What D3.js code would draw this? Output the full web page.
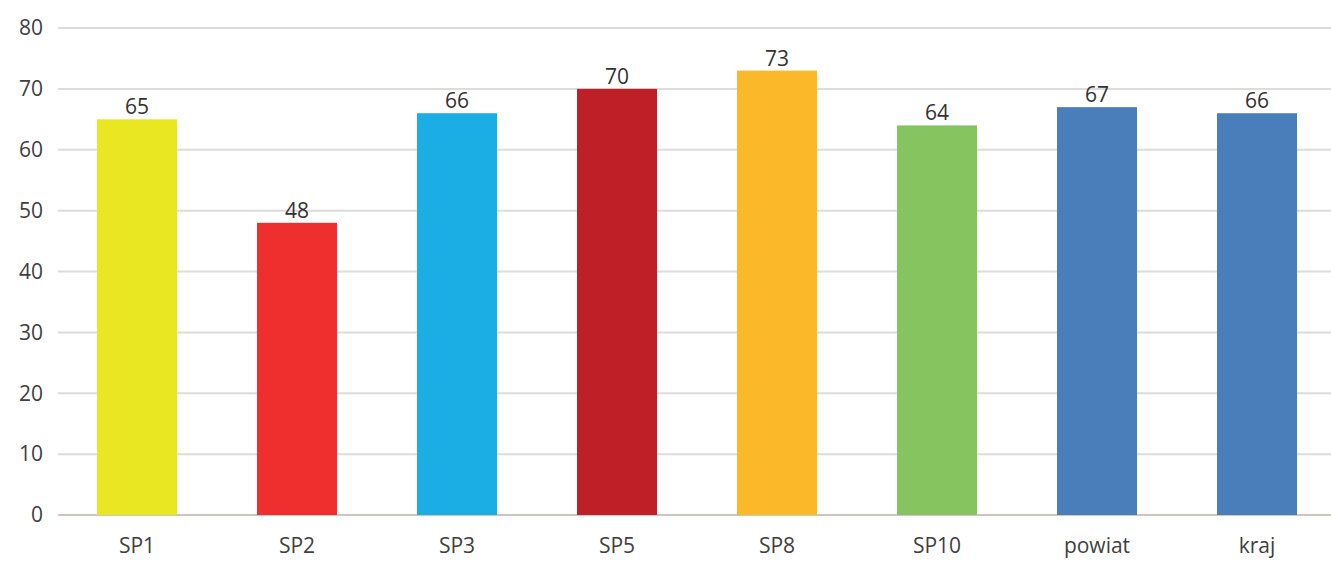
<!DOCTYPE html>
<html><head><meta charset="utf-8">
<script src="https://cdn.jsdelivr.net/npm/d3@7"></script>
<style>body{margin:0;background:#fff;} text{font-family:"Open Sans","DejaVu Sans",sans-serif;}</style>
</head><body>
<svg id="c" width="1331" height="561"></svg>
<script>
const categories = ["SP1","SP2","SP3","SP5","SP8","SP10","powiat","kraj"];
const values = [65,48,66,70,73,64,67,66];
const colors = ["#E9E722","#EE2F2D","#1BAEE4","#BF1F26","#FBB829","#86C45F","#4A7EBB","#4A7EBB"];
const yTicks = [0,10,20,30,40,50,60,70,80];

const svg = d3.select("#c");
const x = d3.scaleBand().domain(categories).range([57,1337]).paddingInner(0.5).paddingOuter(0.25);
const y = d3.scaleLinear().domain([0,80]).range([515,28]);

svg.append("g").selectAll("line").data(yTicks).join("line")
  .attr("x1",58).attr("x2",1331).attr("y1",d=>y(d)).attr("y2",d=>y(d))
  .attr("stroke",d=>d===0?"#d0c4c0":"#dcdcdc").attr("stroke-width",2);

svg.append("g").selectAll("text").data(yTicks).join("text")
  .attr("x",43).attr("y",d=>y(d)).attr("dy","0.35em").attr("text-anchor","end")
  .attr("font-size",21).attr("fill","#404040").text(d=>d);

svg.append("g").selectAll("rect").data(categories).join("rect")
  .attr("x",d=>x(d)).attr("width",x.bandwidth())
  .attr("y",(d,i)=>y(values[i])).attr("height",(d,i)=>y(0)-y(values[i]))
  .attr("fill",(d,i)=>colors[i]);

svg.append("g").selectAll("text").data(categories).join("text")
  .attr("x",d=>x(d)+x.bandwidth()/2).attr("y",(d,i)=>y(values[i])-5)
  .attr("text-anchor","middle").attr("font-size",21).attr("fill","#333").text((d,i)=>values[i]);

svg.append("g").selectAll("text").data(categories).join("text")
  .attr("x",d=>x(d)+x.bandwidth()/2).attr("y",553)
  .attr("text-anchor","middle").attr("font-size",21).attr("fill","#404040").text(d=>d);
</script>
</body></html>
